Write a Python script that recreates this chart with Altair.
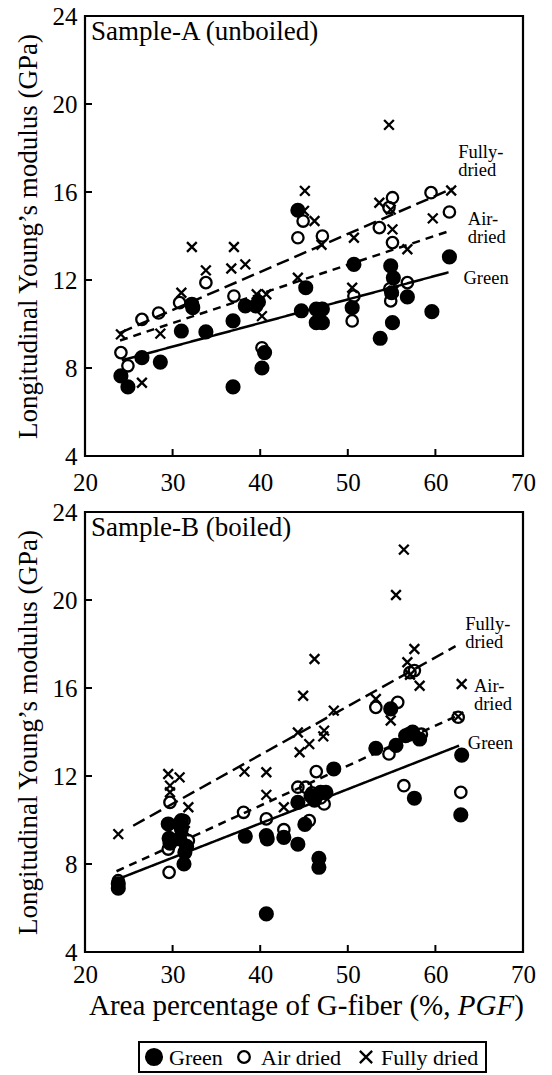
import altair as alt
import pandas as pd

FONT = "Liberation Serif"
W, H = 438, 440

TYPES = ["Green", "Air dried", "Fully dried"]

# ---------------- Sample-A (unboiled) ----------------
a_green_x = [24.1, 24.9, 26.5, 28.6, 31.0, 32.2, 32.3, 33.8, 36.9, 36.9, 38.3, 39.5, 39.8, 40.2, 40.5,
             44.3, 44.7, 45.2, 46.4, 47.1, 46.4, 47.1, 50.7, 50.5, 53.7, 54.9, 55.2, 55.0, 55.1, 56.8,
             59.6, 61.6]
a_green_y = [7.64, 7.14, 8.47, 8.27, 9.68, 10.9, 10.74, 9.64, 7.14, 10.14, 10.82, 10.82, 11.0, 8.0, 8.7,
             15.17, 10.6, 11.65, 10.68, 10.68, 10.06, 10.06, 12.71, 10.74, 9.35, 12.64, 12.1, 11.42, 10.06, 11.23,
             10.56, 13.05]
a_air_x = [24.1, 24.9, 26.5, 28.4, 30.8, 33.8, 37.0, 36.9, 40.2, 44.3, 44.9, 47.1, 53.6, 55.1, 54.7,
           55.1, 54.9, 50.7, 50.5, 56.8, 59.5, 61.6, 47.0, 54.8]
a_air_y = [8.7, 8.1, 10.21, 10.5, 10.97, 11.88, 11.27, 10.14, 8.92, 13.92, 14.68, 14.0, 14.38, 15.74, 15.29,
           13.7, 11.05, 11.27, 10.14, 11.88, 15.97, 15.09, 10.7, 11.6]
a_full_x = [24.1, 26.5, 28.6, 31.0, 32.2, 33.8, 37.0, 36.7, 38.3, 39.6, 40.7, 40.2, 44.3, 45.1, 45.0,
            46.2, 47.0, 50.7, 50.5, 53.6, 54.9, 55.1, 56.8, 59.7, 61.8, 54.7, 55.2]
a_full_y = [9.53, 7.33, 9.56, 11.42, 13.5, 12.44, 13.5, 12.52, 12.71, 11.35, 11.35, 10.36, 12.1, 16.05, 15.14,
            14.68, 13.6, 13.92, 11.65, 15.51, 15.2, 14.3, 13.4, 14.8, 16.07, 19.05, 11.5]
# regression line end points
a_line_x = {"Green": [24.2, 61.5], "Air dried": [24.0, 61.4], "Fully dried": [24.0, 61.9]}
a_line_y = {"Green": [8.35, 12.35], "Air dried": [9.25, 14.2], "Fully dried": [9.6, 16.15]}

# ---------------- Sample-B (boiled) ----------------
b_green_x = [23.8, 23.8, 29.5, 29.6, 29.7, 31.0, 31.0, 30.8, 31.4, 31.3, 31.6, 38.3, 40.7, 40.8, 40.7,
             42.7, 44.3, 44.3, 45.1, 45.8, 46.9, 47.5, 46.2, 48.4, 53.2, 54.9, 55.5, 56.6, 57.0, 57.4,
             58.2, 57.6, 63.0, 62.9, 46.7, 46.7]
b_green_y = [6.9, 7.1, 9.82, 9.17, 8.95, 9.97, 9.6, 9.14, 8.53, 8.0, 8.8, 9.26, 9.29, 9.14, 5.73,
             9.21, 8.9, 10.8, 9.8, 11.1, 11.26, 11.26, 10.9, 12.32, 13.26, 15.05, 13.39, 13.83, 13.9, 14.0,
             13.68, 10.99, 12.95, 10.23, 8.26, 7.85]
b_air_x = [23.8, 29.7, 29.5, 29.6, 31.8, 31.3, 38.1, 40.7, 42.7, 44.3, 45.2, 45.9, 46.4, 45.6, 47.3,
           53.2, 55.7, 54.7, 56.4, 57.6, 57.1, 58.4, 62.6, 62.9, 46.9]
b_air_y = [7.24, 10.8, 8.68, 7.62, 9.06, 9.97, 10.35, 10.05, 9.56, 11.49, 11.49, 11.23, 12.2, 9.97, 10.73,
           15.12, 15.35, 13.0, 11.56, 16.79, 16.7, 13.9, 14.67, 11.26, 11.0]
b_full_x = [23.8, 29.5, 30.8, 29.7, 29.7, 31.8, 31.2, 31.4, 38.2, 40.7, 40.7, 42.7, 44.3, 44.5, 44.9,
            46.2, 45.6, 47.3, 47.2, 48.4, 53.2, 54.9, 55.5, 56.4, 57.6, 56.8, 57.1, 58.2, 63.0, 62.6]
b_full_y = [9.36, 12.09, 11.94, 11.56, 11.26, 10.58, 9.89, 9.5, 12.2, 12.17, 11.14, 10.58, 13.98, 13.08, 15.65,
            17.32, 13.45, 14.06, 13.8, 14.97, 15.5, 14.52, 20.23, 22.29, 17.77, 17.17, 16.6, 16.1, 16.18, 14.7]
b_line_x = {"Green": [23.8, 62.7], "Air dried": [23.6, 62.5], "Fully dried": [25.5, 62.3]}
b_line_y = {"Green": [7.32, 13.38], "Air dried": [7.67, 14.74], "Fully dried": [9.74, 17.9]}

x_ticks = [20, 30, 40, 50, 60, 70]
y_ticks = [4, 8, 12, 16, 20, 24]

# label annotations: (text, x, y) in data units
a_labels = [("Fully-\ndried", 62.6, 18.25), ("Air-\ndried", 63.7, 15.16), ("Green", 63.2, 12.5)]
b_labels = [("Fully-\ndried", 63.4, 19.34), ("Air-\ndried", 64.4, 16.5), ("Green", 63.7, 13.9)]

XPATH = "M-1,-1L1,1M1,-1L-1,1"
SHAPES = ["circle", "circle", XPATH]
FILLS = ["black", "transparent", "transparent"]
SIZES = [165, 95, 100]
LEG_SIZES = [250, 135, 150]


def pts_df(gx, gy, ax_, ay, fx, fy):
    rows = []
    for t, xs, ys in [("Green", gx, gy), ("Air dried", ax_, ay), ("Fully dried", fx, fy)]:
        for x, y in zip(xs, ys):
            rows.append({"x": x, "y": y, "type": t})
    return pd.DataFrame(rows)


def lines_df(lx, ly):
    rows = []
    for t in TYPES:
        for x, y in zip(lx[t], ly[t]):
            rows.append({"x": x, "y": y, "type": t})
    return pd.DataFrame(rows)


def one(text):
    return pd.DataFrame({"t": [text]})


def panel(pts, lns, labels, title, bottom):
    xsc = alt.Scale(domain=[20, 70], nice=False, zero=False)
    ysc = alt.Scale(domain=[4, 24], nice=False, zero=False)
    xaxis = alt.Axis(values=x_ticks, ticks=False, domain=False, grid=False, labelFont=FONT,
                     labelFontSize=25, labelColor="black", labelPadding=10 if bottom else 14,
                     labelFlush=False, labelOverlap=False, title=None)
    yaxis = alt.Axis(values=y_ticks, ticks=False, domain=False, grid=False, labelFont=FONT,
                     labelFontSize=25, labelColor="black", labelPadding=8, labelFlush=False,
                     labelOverlap=False, title="Longitudinal Young\u2019s modulus (GPa)",
                     titleFont=FONT, titleFontSize=27, titleFontWeight="normal", titleColor="black",
                     titlePadding=10)
    points = alt.Chart(pts).mark_point(stroke="black", strokeWidth=2.3, opacity=1).encode(
        x=alt.X("x:Q", scale=xsc, axis=xaxis),
        y=alt.Y("y:Q", scale=ysc, axis=yaxis),
        shape=alt.Shape("type:N", scale=alt.Scale(domain=TYPES, range=SHAPES), legend=None),
        fill=alt.Fill("type:N", scale=alt.Scale(domain=TYPES, range=FILLS), legend=None),
        size=alt.Size("type:N", scale=alt.Scale(domain=TYPES, range=SIZES), legend=None),
    )
    lines = alt.Chart(lns).mark_line(color="black", strokeWidth=2.5).encode(
        x=alt.X("x:Q", scale=xsc),
        y=alt.Y("y:Q", scale=ysc),
        detail="type:N",
        strokeDash=alt.StrokeDash("type:N", scale=alt.Scale(domain=TYPES, range=[[1, 0], [8, 6], [13, 6]]),
                                  legend=None),
    )
    lab_df = pd.DataFrame([{"t": t, "x": x, "y": y} for t, x, y in labels])
    labs = alt.Chart(lab_df).mark_text(font=FONT, fontSize=18.5, align="left", baseline="top",
                                       lineBreak="\n", lineHeight=18, color="black").encode(
        x=alt.X("x:Q", scale=xsc), y=alt.Y("y:Q", scale=ysc), text="t:N")
    xt = alt.Chart(pd.DataFrame({"v": x_ticks})).mark_rule(color="black", strokeWidth=2).encode(
        x=alt.X("v:Q", scale=xsc), y=alt.value(H), y2=alt.value(H - 7))
    yt = alt.Chart(pd.DataFrame({"v": y_ticks})).mark_rule(color="black", strokeWidth=2).encode(
        y=alt.Y("v:Q", scale=ysc), x=alt.value(0), x2=alt.value(7))
    ttl = alt.Chart(one(title)).mark_text(font=FONT, fontSize=27, align="left",
                                          baseline="middle", color="black").encode(
        x=alt.value(6), y=alt.value(16), text="t:N")
    layers = [xt, yt, lines, points, labs, ttl]
    if bottom:
        fs = 29
        ty = H + 63
        t1 = alt.Chart(one("Area percentage of G-fiber (%, ")).mark_text(
            font=FONT, fontSize=fs, align="left", baseline="alphabetic", color="black").encode(
            x=alt.value(4), y=alt.value(ty), text="t:N")
        t2 = alt.Chart(one("PGF")).mark_text(
            font=FONT, fontSize=fs, fontStyle="italic", align="left", baseline="alphabetic",
            color="black").encode(x=alt.value(4 + 12.716 * fs), y=alt.value(ty), text="t:N")
        t3 = alt.Chart(one(")")).mark_text(
            font=FONT, fontSize=fs, align="left", baseline="alphabetic", color="black").encode(
            x=alt.value(4 + (12.716 + 1.944) * fs), y=alt.value(ty), text="t:N")
        layers += [t1, t2, t3]
        # legend box (drawn manually below the axis title)
        ly0, ly1 = H + 90, H + 120
        lyc = (ly0 + ly1) / 2
        box = alt.Chart(one("")).mark_rect(fill="white", fillOpacity=0, stroke="black",
                                           strokeWidth=2).encode(
            x=alt.value(54), x2=alt.value(401), y=alt.value(ly0), y2=alt.value(ly1))
        layers.append(box)
        sym_x = [69, 159, 281]
        txt_x = [84, 176, 296]
        for t, shp, fil, sz, sx, tx in zip(TYPES, SHAPES, FILLS, LEG_SIZES, sym_x, txt_x):
            layers.append(alt.Chart(one(t)).mark_point(shape=shp, fill=fil, size=sz, stroke="black",
                                                       strokeWidth=2.3, opacity=1).encode(
                x=alt.value(sx), y=alt.value(lyc)))
            layers.append(alt.Chart(one(t)).mark_text(font=FONT, fontSize=22, align="left",
                                                      baseline="middle", color="black").encode(
                x=alt.value(tx), y=alt.value(lyc + 1), text="t:N"))
    return alt.layer(*layers).properties(width=W, height=H)


top = panel(pts_df(a_green_x, a_green_y, a_air_x, a_air_y, a_full_x, a_full_y),
            lines_df(a_line_x, a_line_y), a_labels, "Sample-A (unboiled)", False)
bot = panel(pts_df(b_green_x, b_green_y, b_air_x, b_air_y, b_full_x, b_full_y),
            lines_df(b_line_x, b_line_y), b_labels, "Sample-B (boiled)", True)

chart = alt.vconcat(top, bot, spacing=1).configure_view(
    stroke="black", strokeWidth=2.2
).properties(padding={"left": 4, "top": -6, "right": 0, "bottom": 0})

chart.save("out.html", embed_options={"renderer": "svg", "actions": False})
